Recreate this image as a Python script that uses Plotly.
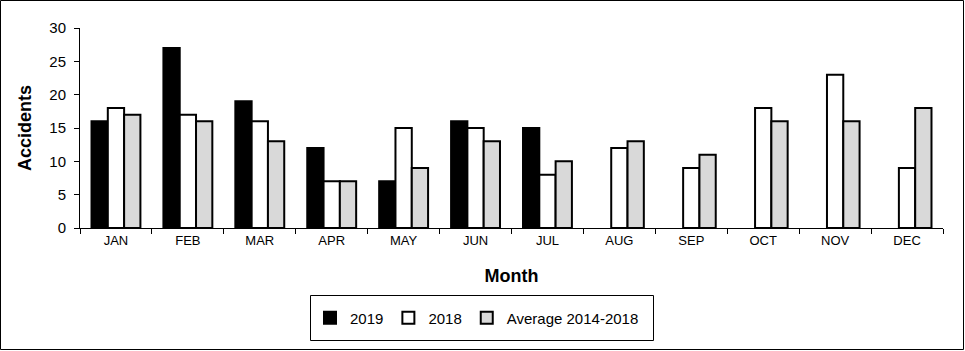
import plotly.graph_objects as go

months = ["JAN", "FEB", "MAR", "APR", "MAY", "JUN", "JUL", "AUG", "SEP", "OCT", "NOV", "DEC"]
acc_2019 = [16, 27, 19, 12, 7, 16, 15, None, None, None, None, None]
acc_2018 = [18, 17, 16, 7, 15, 15, 8, 12, 9, 18, 23, 9]
acc_avg = [17, 16, 13, 7, 9, 13, 10, 13, 11, 16, 16, 18]
y_ticks = [0, 5, 10, 15, 20, 25, 30]

W, H = 965, 351
ML, MR, MT, MB = 80, 22, 28, 123
PW, PH = W - ML - MR, H - MT - MB

def px_x(p):
    return (p - ML) / PW

def px_y(p):
    return (H - MB - p) / PH

font = "Liberation Sans, Arial, sans-serif"
line = dict(color="black", width=2)

fig = go.Figure()
fig.add_trace(go.Bar(x=months, y=acc_2019, name="2019", marker=dict(color="black", line=line)))
fig.add_trace(go.Bar(x=months, y=acc_2018, name="2018", marker=dict(color="white", line=line)))
fig.add_trace(go.Bar(x=months, y=acc_avg, name="Average 2014-2018", marker=dict(color="#d9d9d9", line=line)))

fig.update_layout(
    width=W, height=H,
    margin=dict(l=ML, r=MR, t=MT, b=MB, pad=0),
    paper_bgcolor="white", plot_bgcolor="white",
    font=dict(family=font, color="black"),
    barmode="group", bargap=0.32, bargroupgap=0,
    showlegend=True,
    legend=dict(
        orientation="h", x=px_x(310), y=px_y(318), xanchor="left", yanchor="middle",
        font=dict(size=15, family=font), bgcolor="rgba(0,0,0,0)", borderwidth=0,
        itemwidth=30, traceorder="normal",
    ),
    xaxis=dict(
        showline=True, linecolor="black", linewidth=1,
        ticks="outside", ticklen=5, tickcolor="black", tickson="boundaries",
        tickfont=dict(size=13), showgrid=False,
        title=dict(text="<b>Month</b>", font=dict(size=18), standoff=22),
    ),
    yaxis=dict(
        range=[0, 30], tickvals=y_ticks, showline=True, linecolor="black", linewidth=1,
        ticks="outside", ticklen=5, tickcolor="black", tickfont=dict(size=15),
        ticklabelstandoff=5,
        showgrid=False, zeroline=False,
        title=dict(text="<b>Accidents</b>", font=dict(size=18), standoff=13),
    ),
    shapes=[
        dict(type="rect", xref="paper", yref="paper",
             x0=px_x(310.5), x1=px_x(653.5), y0=px_y(295.5), y1=px_y(340.5),
             line=dict(color="black", width=1), fillcolor="rgba(0,0,0,0)"),
        dict(type="rect", xref="paper", yref="paper",
             x0=px_x(0.5), x1=px_x(963.5), y0=px_y(0.5), y1=px_y(349.5),
             line=dict(color="black", width=1), fillcolor="rgba(0,0,0,0)"),
    ],
)

fig.write_html("out.html", config={"displayModeBar": False},
               post_script="document.body.style.margin='0px';")
